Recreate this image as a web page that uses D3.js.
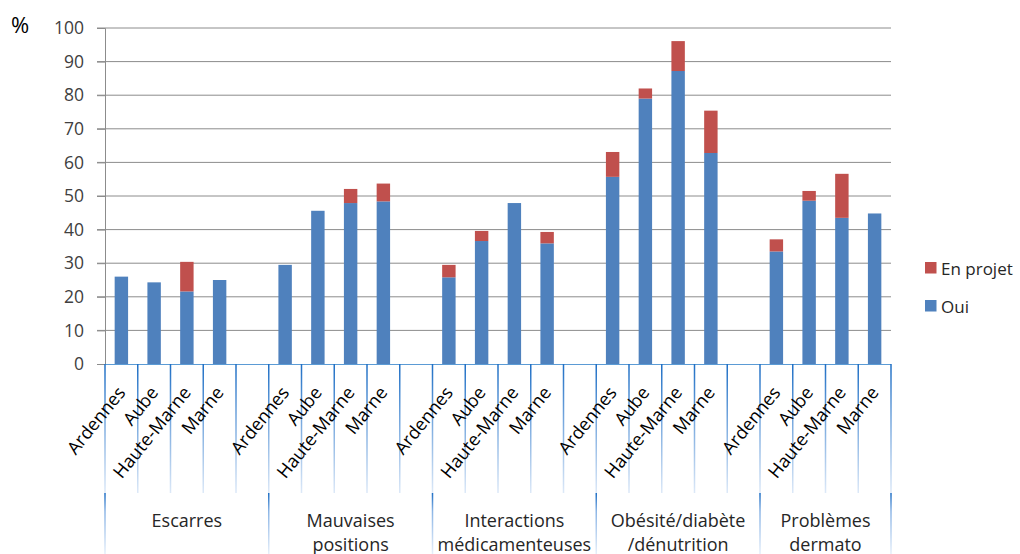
<!DOCTYPE html>
<html><head><meta charset="utf-8">
<script src="https://cdn.jsdelivr.net/npm/d3@7"></script>
<style>
html,body{margin:0;padding:0;background:#fff;}
svg{display:block;font-family:"Open Sans",sans-serif;}
</style></head>
<body>
<svg id="chart" width="1020" height="554"></svg>
<script>
const groups = ["Escarres", "Mauvaises|positions", "Interactions|médicamenteuses", "Obésité/diabète|/dénutrition", "Problèmes|dermato"];
const depts = ["Ardennes", "Aube", "Haute-Marne", "Marne"];
const oui =    [26, 24.3, 21.6, 25,   29.5, 45.6, 47.9, 48.4,   25.8, 36.6, 47.9, 35.9,   55.7, 79.0, 87.2, 62.8,   33.5, 48.6, 43.5, 44.8];
const projet = [0, 0, 8.8, 0,         0, 0, 4.2, 5.3,           3.7, 3.0, 0, 3.4,         7.4, 3.0, 8.9, 12.6,      3.6, 2.9, 13.1, 0];
const yTicks = [0, 10, 20, 30, 40, 50, 60, 70, 80, 90, 100];
const seriesNames = ["En projet", "Oui"];
const colors = {"Oui": "#4f81bd", "En projet": "#c0504d"};

(function () {
const slots = [];
const rows = [];
groups.forEach((g, gi) => {
  depts.forEach((d, di) => {
    const id = gi + "-" + di;
    slots.push(id);
    rows.push({id, group: gi, dept: d, oui: oui[gi*4+di], projet: projet[gi*4+di]});
  });
  if (gi < groups.length - 1) slots.push(gi + "-gap");
});

const svg = d3.select("#chart");
const pLeft = 105, pRight = 891, pTop = 28, pBottom = 364;
const x = d3.scaleBand().domain(slots).range([pLeft, pRight]).padding(0);
const y = d3.scaleLinear().domain([0, 100]).range([pBottom, pTop]);
const step = x.step();
const bw = step * 0.41;

const defs = svg.append("defs");
const g1 = defs.append("linearGradient").attr("id", "tickGrad").attr("x1", 0).attr("y1", 0).attr("x2", 0).attr("y2", 1);
g1.append("stop").attr("offset", "0%").attr("stop-color", "#1f6fc5");
g1.append("stop").attr("offset", "40%").attr("stop-color", "#6fa3dc");
g1.append("stop").attr("offset", "100%").attr("stop-color", "#dde9f8");
const g2 = defs.append("linearGradient").attr("id", "tickGrad2").attr("x1", 0).attr("y1", 0).attr("x2", 0).attr("y2", 1);
g2.append("stop").attr("offset", "0%").attr("stop-color", "#1f6fc5");
g2.append("stop").attr("offset", "30%").attr("stop-color", "#8db6e6");
g2.append("stop").attr("offset", "100%").attr("stop-color", "#e6effa");

svg.append("g").selectAll("line").data(yTicks.filter(t => t > 0)).join("line")
  .attr("x1", pLeft - 8).attr("x2", pRight).attr("y1", d => y(d)).attr("y2", d => y(d))
  .attr("stroke", "#8c8c8c").attr("stroke-width", 1);

const yAxis = d3.axisLeft(y).tickValues(yTicks).tickSize(8).tickPadding(13);
const ya = svg.append("g").attr("transform", `translate(${pLeft},0)`).call(yAxis);
ya.select(".domain").attr("stroke", "#8c8c8c");
ya.selectAll(".tick line").attr("stroke", "#8c8c8c");
ya.selectAll(".tick text").attr("font-size", "17.5px").attr("fill", "#404040").attr("font-family", "Open Sans");

svg.append("text").attr("x", 11).attr("y", 33).text("%").attr("font-size", "22px").attr("fill", "#000");

const stackData = d3.stack().keys(["oui", "projet"])(rows);
const barG = svg.append("g");
stackData.forEach(layer => {
  const name = layer.key === "oui" ? "Oui" : "En projet";
  barG.append("g").selectAll("rect").data(layer.filter(d => d[1] - d[0] > 0)).join("rect")
    .attr("x", d => x(d.data.id) + (step - bw) / 2)
    .attr("width", bw)
    .attr("y", d => y(d[1]))
    .attr("height", d => y(d[0]) - y(d[1]))
    .attr("fill", colors[name]);
});

svg.append("line").attr("x1", pLeft).attr("x2", pRight).attr("y1", pBottom + 0.5).attr("y2", pBottom + 0.5)
  .attr("stroke", "#5b9bd5").attr("stroke-width", 1.2);

const bounds = slots.map(s => x(s)).concat([pRight]);
svg.append("g").selectAll("rect").data(bounds).join("rect")
  .attr("x", d => d - 0.75).attr("width", 1.5).attr("y", pBottom).attr("height", 129)
  .attr("fill", "url(#tickGrad)");

const groupBounds = [];
groups.forEach((g, gi) => groupBounds.push(x(gi + "-0")));
groupBounds.push(pRight);
svg.append("g").selectAll("rect").data(groupBounds).join("rect")
  .attr("x", d => d - 0.75).attr("width", 1.5).attr("y", 493).attr("height", 61)
  .attr("fill", "url(#tickGrad2)");

svg.append("g").selectAll("text").data(rows).join("text")
  .attr("transform", d => `translate(${x(d.id) + step / 2 + 5},393) rotate(-51)`)
  .attr("text-anchor", "end")
  .attr("font-size", "18px").attr("fill", "#000")
  .text(d => d.dept);

groups.forEach((g, gi) => {
  const x0 = x(gi + "-0");
  const x1 = gi < groups.length - 1 ? x(gi + "-gap") + step : x(gi + "-3") + step;
  const t = svg.append("text").attr("text-anchor", "middle").attr("font-size", "18px").attr("fill", "#262626");
  g.split("|").forEach((line, li) => {
    t.append("tspan").attr("x", (x0 + x1) / 2).attr("y", 527 + li * 24).text(line);
  });
});

const leg = svg.append("g");
seriesNames.forEach((n, i) => {
  const yy = 268 + i * 38;
  leg.append("rect").attr("x", 925).attr("y", yy - 6).attr("width", 11.5).attr("height", 11.5).attr("fill", colors[n]);
  leg.append("text").attr("x", 941).attr("y", yy + 7).attr("font-size", "17px").attr("fill", "#262626").text(n);
});
})();
</script>
</body></html>
